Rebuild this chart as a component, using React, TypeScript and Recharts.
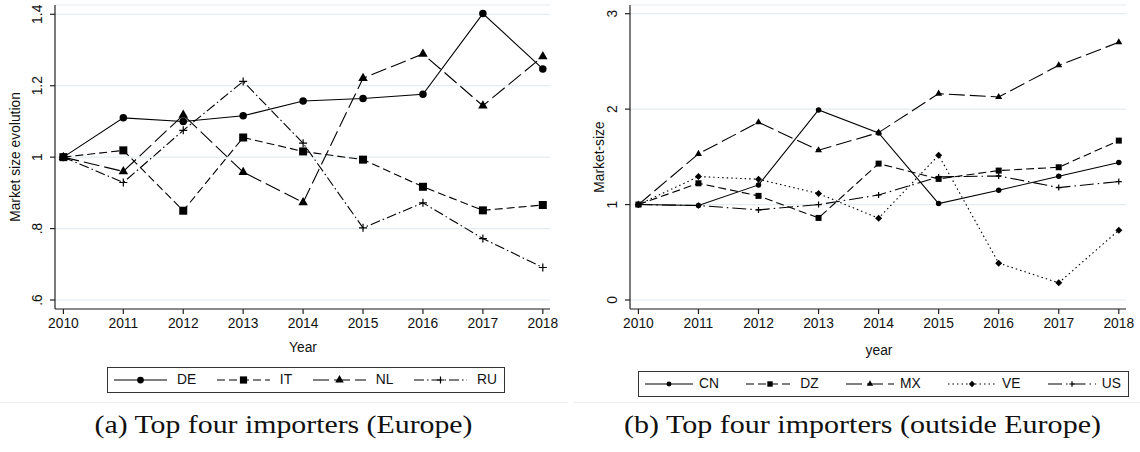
import React from 'react';
import { LineChart, Line, XAxis, YAxis, CartesianGrid } from 'recharts';

const years = [2010, 2011, 2012, 2013, 2014, 2015, 2016, 2017, 2018];

// (a) Europe – market size relative to 2010
const deValues = [1.0, 1.110, 1.100, 1.116, 1.157, 1.164, 1.176, 1.402, 1.247];
const itValues = [1.0, 1.019, 0.850, 1.055, 1.016, 0.993, 0.917, 0.851, 0.866];
const nlValues = [1.0, 0.960, 1.118, 0.958, 0.873, 1.221, 1.289, 1.144, 1.282];
const ruValues = [1.0, 0.929, 1.075, 1.212, 1.039, 0.802, 0.872, 0.772, 0.691];

// (b) outside Europe
const cnValues = [1.0, 0.990, 1.206, 1.991, 1.750, 1.010, 1.150, 1.297, 1.440];
const dzValues = [1.0, 1.223, 1.091, 0.860, 1.429, 1.269, 1.356, 1.391, 1.670];
const mxValues = [1.0, 1.531, 1.862, 1.569, 1.754, 2.162, 2.127, 2.459, 2.700];
const veValues = [1.0, 1.293, 1.265, 1.115, 0.857, 1.517, 0.386, 0.180, 0.731];
const usValues = [1.0, 0.990, 0.944, 1.000, 1.100, 1.290, 1.300, 1.178, 1.241];

const europeTicks = [0.6, 0.8, 1, 1.2, 1.4];
const worldTicks = [0, 1, 2, 3];

const FONT = '"Liberation Sans", Arial, sans-serif';
const SERIF = '"Liberation Serif", "Times New Roman", serif';
const INK = '#111';
const GRID = '#e3ecef';

type Shape = 'circle' | 'square' | 'triangle' | 'diamond' | 'plus';

interface Series {
  key: string;
  name: string;
  values: number[];
  dash?: string;
  shape: Shape;
  size: number;
}

const europeSeries: Series[] = [
  { key: 'DE', name: 'DE', values: deValues, shape: 'circle', size: 7.5 },
  { key: 'IT', name: 'IT', values: itValues, dash: '8 4', shape: 'square', size: 8 },
  { key: 'NL', name: 'NL', values: nlValues, dash: '16 5', shape: 'triangle', size: 9.5 },
  { key: 'RU', name: 'RU', values: ruValues, dash: '10 3 1.5 3', shape: 'plus', size: 8 },
];

const worldSeries: Series[] = [
  { key: 'CN', name: 'CN', values: cnValues, shape: 'circle', size: 5.5 },
  { key: 'DZ', name: 'DZ', values: dzValues, dash: '8 4', shape: 'square', size: 6 },
  { key: 'MX', name: 'MX', values: mxValues, dash: '16 5', shape: 'triangle', size: 7 },
  { key: 'VE', name: 'VE', values: veValues, dash: '1.5 3', shape: 'diamond', size: 7 },
  { key: 'US', name: 'US', values: usValues, dash: '14 4 1.5 4', shape: 'plus', size: 6 },
];

// stata-ish labels: ".6", "1", "1.2"
const fmtEurope = (v: number) => (v === 1 ? '1' : v < 1 ? v.toFixed(1).slice(1) : v.toFixed(1));
const fmtWorld = (v: number) => String(v);

const Marker = ({ cx, cy, shape, size }: { cx: number; cy: number; shape: Shape; size: number }) => {
  const h = size / 2;
  if (shape === 'circle') return <circle cx={cx} cy={cy} r={h} fill="#000" />;
  if (shape === 'square') return <rect x={cx - h} y={cy - h} width={size} height={size} fill="#000" />;
  if (shape === 'triangle') {
    const top = cy - size * 0.577;
    const bot = cy + size * 0.289;
    return <polygon points={`${cx},${top} ${cx + h},${bot} ${cx - h},${bot}`} fill="#000" />;
  }
  if (shape === 'diamond') {
    return <polygon points={`${cx},${cy - h} ${cx + h},${cy} ${cx},${cy + h} ${cx - h},${cy}`} fill="#000" />;
  }
  return <path d={`M${cx - h},${cy}H${cx + h}M${cx},${cy - h}V${cy + h}`} stroke="#000" strokeWidth={1.2} fill="none" />;
};

const YTick = ({ x, y, payload, fmt }: any) => {
  const bx = x - 6;
  return (
    <text x={bx} y={y} transform={`rotate(-90, ${bx}, ${y})`} textAnchor="middle" fontSize={13.8} fontFamily={FONT} fill={INK}>
      {fmt(payload.value)}
    </text>
  );
};

interface PanelProps {
  left: number;
  width: number;
  rightMargin: number;
  series: Series[];
  domain: [number, number];
  ticks: number[];
  fmt: (v: number) => string;
}

const Panel: React.FC<PanelProps> = ({ left, width, rightMargin, series, domain, ticks, fmt }) => {
  const data = years.map((year, i) => {
    const row: Record<string, number> = { year };
    series.forEach((s) => {
      row[s.key] = s.values[i];
    });
    return row;
  });

  return (
    <div style={{ position: 'absolute', left, top: 0 }}>
      <LineChart width={width} height={330} data={data} margin={{ top: 5, right: rightMargin, left: 0, bottom: 0 }}>
        <CartesianGrid vertical={false} stroke={GRID} strokeWidth={1.2} />
        <XAxis
          type="number"
          dataKey="year"
          domain={[2009.86, 2018.12]}
          ticks={years}
          interval={0}
          height={21}
          tickSize={5}
          tickMargin={4}
          stroke="#222"
          strokeWidth={1.2}
          tick={{ fill: INK, fontSize: 13.8, fontFamily: FONT }}
        />
        <YAxis
          type="number"
          domain={domain}
          ticks={ticks}
          interval={0}
          allowDataOverflow
          width={55}
          tickSize={5}
          stroke="#222"
          strokeWidth={1.2}
          tick={(p: any) => <YTick {...p} fmt={fmt} />}
        />
        {series.map((s) => (
          <Line
            key={s.key}
            dataKey={s.key}
            stroke="#000"
            strokeWidth={1.1}
            strokeDasharray={s.dash}
            activeDot={false}
            isAnimationActive={false}
            dot={(p: any) => (
              <Marker key={`${s.key}-${p.index}`} cx={p.cx} cy={p.cy} shape={s.shape} size={s.size} />
            )}
          />
        ))}
      </LineChart>
    </div>
  );
};

const LegendBox = ({ series, left, top, width, sample, gap }: { series: Series[]; left: number; top: number; width: number; sample: number; gap: number }) => (
  <div
    style={{
      position: 'absolute',
      left,
      top,
      width,
      height: 26,
      boxSizing: 'border-box',
      border: '1px solid #333',
      display: 'flex',
      alignItems: 'center',
      justifyContent: 'space-between',
      padding: '0 7px 0 6px',
      fontFamily: FONT,
      fontSize: 13.8,
      color: INK,
    }}
  >
    {series.map((s) => (
      <div key={s.key} style={{ display: 'flex', alignItems: 'center' }}>
        <svg width={sample} height={14} style={{ display: 'block' }}>
          <line x1={0} x2={sample} y1={7} y2={7} stroke="#000" strokeWidth={1.1} strokeDasharray={s.dash} />
          <Marker cx={sample / 2} cy={7} shape={s.shape} size={s.size * 0.9} />
        </svg>
        <span style={{ marginLeft: gap, lineHeight: '14px' }}>{s.name}</span>
      </div>
    ))}
  </div>
);

export default function App() {
  return (
    <div style={{ position: 'absolute', left: 0, top: 0, width: 1140, height: 452, background: '#fff', overflow: 'hidden' }}>
      <Panel left={0} width={570} rightMargin={20} series={europeSeries} domain={[0.5748, 1.426]} ticks={europeTicks} fmt={fmtEurope} />
      <Panel left={575} width={565} rightMargin={14} series={worldSeries} domain={[-0.0943, 3.091]} ticks={worldTicks} fmt={fmtWorld} />

      <svg width={1140} height={452} style={{ position: 'absolute', left: 0, top: 0, pointerEvents: 'none' }}>
        <text transform="translate(19.5,157) rotate(-90)" textAnchor="middle" fontFamily={FONT} fontSize={13.8} fill={INK}>
          Market size evolution
        </text>
        <text transform="translate(604,157) rotate(-90)" textAnchor="middle" fontFamily={FONT} fontSize={13.8} fill={INK}>
          Market-size
        </text>
        <text x={303} y={352} textAnchor="middle" fontFamily={FONT} fontSize={13.8} fill={INK}>
          Year
        </text>
        <text x={879} y={355} textAnchor="middle" fontFamily={FONT} fontSize={13.8} fill={INK}>
          year
        </text>
        <line x1={0} x2={568} y1={402.5} y2={402.5} stroke="#ececec" />
        <line x1={574} x2={1140} y1={402.5} y2={402.5} stroke="#ececec" />
        <text x={283.5} y={433} textAnchor="middle" fontFamily={SERIF} fontSize={26} fill={INK} textLength={378} lengthAdjust="spacingAndGlyphs">
          (a) Top four importers (Europe)
        </text>
        <text x={862.5} y={433} textAnchor="middle" fontFamily={SERIF} fontSize={26} fill={INK} textLength={477} lengthAdjust="spacingAndGlyphs">
          (b) Top four importers (outside Europe)
        </text>
      </svg>

      <LegendBox series={europeSeries} left={107} top={367} width={398} sample={53} gap={10} />
      <LegendBox series={worldSeries} left={638} top={371} width={491} sample={48} gap={6} />
    </div>
  );
}
